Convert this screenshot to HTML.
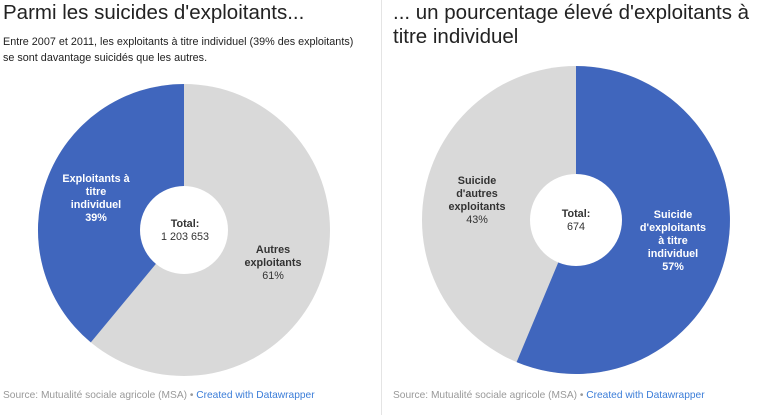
<!DOCTYPE html>
<html><head><meta charset="utf-8"><style>
body{margin:0;width:766px;height:415px;background:#fff;font-family:"Liberation Sans",Arial,sans-serif;position:relative;overflow:hidden}
.t{position:absolute;color:#222;font-size:20.5px;line-height:23px}
.s{position:absolute;font-size:10.8px;color:#222;line-height:16px}
.src{position:absolute;font-size:10.2px;color:#999;top:390px}
.src span{color:#3b7dd8}
.div{position:absolute;left:381px;top:0;width:1px;height:415px;background:#e4e4e4}
</style></head><body>
<div class="t" style="left:3px;top:1px">Parmi les suicides d'exploitants...</div>
<div class="s" style="left:3px;top:34px">Entre 2007 et 2011, les exploitants à titre individuel (39% des exploitants)<br>se sont davantage suicidés que les autres.</div>
<div class="t" style="left:393px;top:1px;line-height:24px">... un pourcentage élevé d'exploitants à<br>titre individuel</div>
<div class="div"></div>
<svg width="766" height="415" style="position:absolute;left:0;top:0" font-family="Liberation Sans,Arial,sans-serif" font-size="10.8" text-anchor="middle">
<circle cx="184" cy="230" r="146" fill="#d9d9d9"/>
<path d="M184,230 L184,84 A146,146 0 0 0 90.8,342.4 Z" fill="#4066bd"/>
<circle cx="184" cy="230" r="44" fill="#fff"/>
<g font-weight="bold" fill="#fff"><text x="96" y="182">Exploitants à</text><text x="96" y="195">titre</text><text x="96" y="208">individuel</text><text x="96" y="221">39%</text></g>
<text x="185" y="227" font-weight="bold" fill="#333">Total:</text><text x="185" y="240" fill="#333">1 203 653</text>
<g fill="#333"><text x="273" y="253" font-weight="bold">Autres</text><text x="273" y="266" font-weight="bold">exploitants</text><text x="273" y="279">61%</text></g>
<circle cx="576" cy="220" r="154" fill="#d9d9d9"/>
<path d="M576,220 L576,66 A154,154 0 1 1 516.6,362.1 Z" fill="#4066bd"/>
<circle cx="576" cy="220" r="46" fill="#fff"/>
<g fill="#333"><text x="477" y="184" font-weight="bold">Suicide</text><text x="477" y="197" font-weight="bold">d'autres</text><text x="477" y="210" font-weight="bold">exploitants</text><text x="477" y="223">43%</text></g>
<text x="576" y="217" font-weight="bold" fill="#333">Total:</text><text x="576" y="230" fill="#333">674</text>
<g font-weight="bold" fill="#fff"><text x="673" y="218">Suicide</text><text x="673" y="231">d'exploitants</text><text x="673" y="244">à titre</text><text x="673" y="257">individuel</text><text x="673" y="270">57%</text></g>
</svg>
<div class="src" style="left:3px">Source: Mutualité sociale agricole (MSA) • <span>Created with Datawrapper</span></div>
<div class="src" style="left:393px">Source: Mutualité sociale agricole (MSA) • <span>Created with Datawrapper</span></div>
</body></html>
